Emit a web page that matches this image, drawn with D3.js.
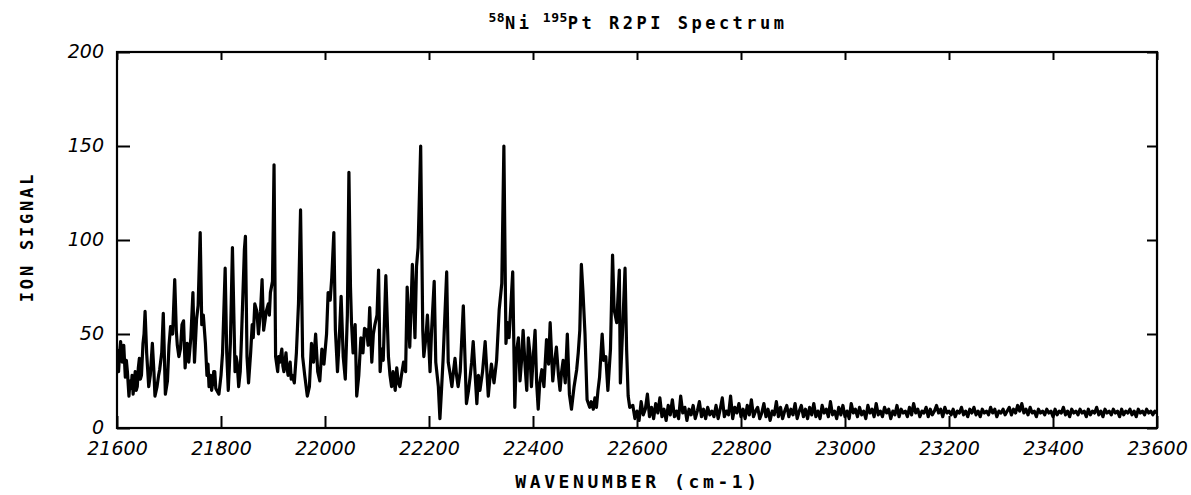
<!DOCTYPE html>
<html><head><meta charset="utf-8">
<script src="https://cdn.jsdelivr.net/npm/d3@7"></script>
<style>body{margin:0;background:#fff}</style>
</head><body><svg id="c" width="1191" height="495"></svg>
<script>
const titleParts = [["58", true], ["Ni", false], [" ", false], ["195", true], ["Pt R2PI Spectrum", false]];
const xLabel = "WAVENUMBER (cm-1)";
const yLabel = "ION SIGNAL";
const xTicks = [21600, 21800, 22000, 22200, 22400, 22600, 22800, 23000, 23200, 23400, 23600];
const yTicks = [0, 50, 100, 150, 200];

const peakPoints = [
[21600,42],[21602,34],[21603,30],[21605,40],[21607,46],[21610,35],[21613,44],[21616,27],[21618,36],[21620,30],
[21623,17],[21625,25],[21627,21],[21629,28],[21631,18],[21633,24],[21635,30],[21637,20],[21639,22],[21641,32],
[21643,37],[21645,26],[21647,28],[21650,45],[21652,50],[21654,62],[21657,40],[21661,22],[21664,28],[21668,45],
[21671,30],[21673,17],[21677,22],[21680,28],[21682,31],[21686,40],[21689,61],[21693,18],[21697,25],[21700,44],
[21703,54],[21707,50],[21711,79],[21714,52],[21716,44],[21719,38],[21722,42],[21725,55],[21728,57],[21731,32],
[21733,40],[21735,45],[21738,35],[21742,48],[21746,72],[21749,35],[21753,58],[21756,65],[21760,104],[21763,55],
[21766,60],[21770,45],[21773,28],[21775,34],[21777,22],[21780,28],[21782,20],[21784,24],[21786,30],[21788,30],
[21790,21],[21792,20],[21796,18],[21800,28],[21803,40],[21808,85],[21811,40],[21814,20],[21818,45],[21822,96],
[21827,30],[21829,38],[21831,35],[21834,22],[21837,30],[21839,45],[21845,95],[21847,102],[21850,38],[21853,24],
[21857,40],[21860,55],[21862,48],[21865,66],[21869,62],[21872,50],[21876,62],[21879,79],[21882,52],[21885,58],
[21887,62],[21891,66],[21893,60],[21895,72],[21899,78],[21902,140],[21905,38],[21909,30],[21911,38],[21913,35],
[21917,42],[21919,33],[21921,30],[21925,40],[21927,32],[21929,28],[21933,35],[21935,26],[21937,28],[21941,24],
[21945,40],[21949,66],[21953,116],[21957,38],[21961,28],[21966,17],[21970,22],[21974,45],[21978,35],[21982,50],
[21986,30],[21990,25],[21994,42],[21998,34],[22003,50],[22006,72],[22010,68],[22013,80],[22017,104],[22020,52],
[22024,30],[22027,45],[22031,70],[22035,38],[22039,26],[22043,60],[22046,136],[22049,75],[22051,56],[22054,40],
[22058,55],[22061,17],[22065,28],[22069,48],[22073,40],[22076,53],[22080,52],[22083,44],[22086,64],[22090,35],
[22093,50],[22096,55],[22100,60],[22103,84],[22106,30],[22109,42],[22112,36],[22117,81],[22122,38],[22125,28],
[22128,22],[22131,30],[22135,20],[22138,32],[22141,24],[22144,22],[22147,28],[22151,35],[22155,30],[22158,75],
[22163,43],[22168,87],[22173,48],[22176,86],[22179,96],[22184,150],[22188,52],[22190,38],[22194,48],[22197,60],
[22202,30],[22205,52],[22210,78],[22213,35],[22218,22],[22221,5],[22224,20],[22227,36],[22234,83],[22237,35],
[22241,28],[22244,22],[22247,30],[22250,37],[22253,28],[22256,22],[22260,30],[22266,65],[22272,13],[22276,20],
[22279,27],[22282,35],[22285,46],[22292,13],[22295,28],[22298,20],[22303,30],[22308,46],[22314,17],[22317,26],
[22320,34],[22325,24],[22330,36],[22335,63],[22340,77],[22344,150],[22348,45],[22351,56],[22354,48],[22361,83],
[22365,11],[22368,40],[22372,48],[22375,25],[22378,36],[22381,52],[22385,32],[22388,20],[22391,48],[22394,40],
[22397,22],[22401,40],[22404,52],[22407,24],[22410,10],[22413,24],[22417,31],[22421,22],[22426,47],[22430,34],
[22433,56],[22438,25],[22441,34],[22445,43],[22449,28],[22452,20],[22455,30],[22458,36],[22462,24],[22466,50],
[22470,18],[22474,10],[22479,22],[22484,31],[22487,40],[22490,52],[22493,87],[22496,73],[22500,50],[22504,15],
[22509,11],[22512,14],[22516,10],[22519,16],[22522,11],[22525,20],[22528,27],[22533,50],[22536,36],[22540,38],
[22544,20],[22549,42],[22553,92],[22556,63],[22561,56],[22566,84],[22568,24],[22572,50],[22577,85],[22580,42],
[22583,17],[22586,11]
];

// flat tail of the spectrum, sampled every 4 cm-1 from 22592 to 23600
const flatStart = 22592, flatStep = 4;
const flatSignal = [
12,5,9,4,14,7,10,18,6,11,5,13,8,16,6,10,4,12,7,15,
6,9,5,17,8,11,4,10,7,12,5,9,14,6,10,5,11,7,9,6,
12,5,10,16,6,9,7,17,5,11,8,13,6,10,5,12,7,15,6,9,
11,5,8,13,6,10,4,9,7,14,6,11,5,9,12,6,10,7,13,5,
9,12,6,10,5,11,7,13,6,9,5,12,8,10,6,14,7,9,5,11,
7,12,6,9,5,13,8,10,6,11,7,9,5,12,8,10,6,13,7,9,
6,11,8,10,5,9,7,12,6,10,8,9,6,11,7,13,8,10,6,9,
8,11,6,10,7,9,12,8,10,6,11,8,9,7,10,6,9,8,11,7,
9,6,10,8,11,7,9,6,10,8,9,7,11,8,10,6,9,8,10,7,
9,11,7,10,8,12,9,13,8,10,7,11,8,9,6,10,8,9,7,10,
8,9,6,10,7,9,8,11,7,9,6,10,8,9,7,10,8,9,6,10,
7,9,8,11,7,9,6,10,8,9,7,10,8,9,6,10,7,9,8,10,
7,9,6,10,8,9,7,10,8,9,7,9,8];

const data = peakPoints.map(([w, s]) => ({w, s}))
  .concat(flatSignal.map((s, i) => ({w: flatStart + i * flatStep, s})));

const svg = d3.select('#c');
const L = 117, R = 1157, T = 52, B = 428;
const x = d3.scaleLinear().domain([21600, 23600]).range([L, R]);
const y = d3.scaleLinear().domain([0, 200]).range([B, T]);

svg.append('clipPath').attr('id', 'clip').append('rect')
  .attr('x', L).attr('y', T).attr('width', R - L).attr('height', B - T);

svg.append('path').datum(data)
  .attr('clip-path', 'url(#clip)')
  .attr('fill', 'none').attr('stroke', '#000').attr('stroke-width', 3.2)
  .attr('stroke-linejoin', 'round')
  .attr('d', d3.line().defined(d => isFinite(d.s)).x(d => x(d.w)).y(d => y(d.s)));

const tickFont = '"DejaVu Sans", sans-serif';
function styleAxis(g) {
  g.select('.domain').remove();
  g.selectAll('line').attr('stroke', '#000').attr('stroke-width', 2);
  g.selectAll('text').attr('fill', '#000').style('font-family', tickFont)
    .style('font-style', 'italic').style('font-size', '19px');
}
svg.append('g').attr('transform', `translate(0,${B})`)
  .call(d3.axisBottom(x).tickValues(xTicks).tickSize(-12).tickPadding(14).tickFormat(d3.format('d')))
  .call(styleAxis);
svg.append('g').attr('transform', `translate(0,${T})`)
  .call(d3.axisTop(x).tickValues(xTicks).tickSize(-8).tickFormat(''))
  .call(styleAxis);
svg.append('g').attr('transform', `translate(${L},0)`)
  .call(d3.axisLeft(y).tickValues(yTicks).tickSize(-13).tickPadding(13))
  .call(styleAxis)
  .selectAll('text').attr('dy', '0.28em');
svg.append('g').attr('transform', `translate(${R},0)`)
  .call(d3.axisRight(y).tickValues(yTicks).tickSize(-10).tickFormat(''))
  .call(styleAxis);

svg.append('rect').attr('x', L).attr('y', T).attr('width', R - L).attr('height', B - T)
  .attr('fill', 'none').attr('stroke', '#000').attr('stroke-width', 2.2);

const monoFont = '"DejaVu Sans Mono", monospace';
const t = svg.append('text').attr('x', 638).attr('y', 29).attr('text-anchor', 'middle')
  .style('font-family', monoFont).style('font-size', '17px').style('font-weight', 'bold')
  .style('letter-spacing', '3.5px');
titleParts.forEach(([s, sup], i) => {
  const prevSup = i > 0 && titleParts[i - 1][1];
  const ts = t.append('tspan').text(s)
    .attr('dy', sup ? (prevSup ? 0 : -7) : (prevSup ? 7 : 0));
  if (sup) ts.style('font-size', '13px').style('letter-spacing', '0.5px');
  if (s === ' ') ts.style('letter-spacing', '0px');
});

svg.append('text').attr('x', 638).attr('y', 488).attr('text-anchor', 'middle')
  .style('font-family', monoFont).style('font-size', '18px').style('font-weight', 'bold')
  .style('letter-spacing', '3.6px').text(xLabel);

svg.append('text').attr('transform', 'translate(33,237) rotate(-90)').attr('text-anchor', 'middle')
  .style('font-family', monoFont).style('font-size', '17px').style('font-weight', 'bold')
  .style('letter-spacing', '2.8px').text(yLabel);
</script></body></html>
